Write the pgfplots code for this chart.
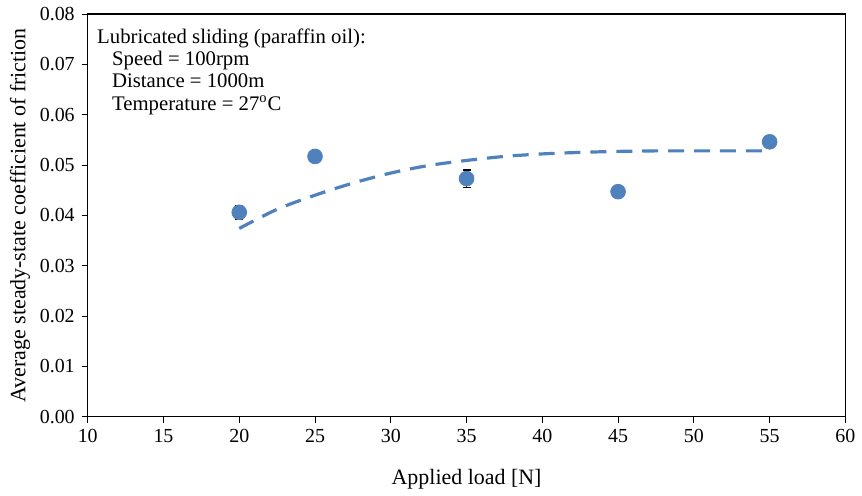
\documentclass[border=0pt]{standalone}
\usepackage{fontspec}
\setmainfont{Liberation Serif}
\usepackage{pgfplots}
\pgfplotsset{compat=1.18}
\definecolor{xlblue}{RGB}{79,129,189}
\begin{document}
\fontsize{10pt}{12pt}\selectfont
\begin{tikzpicture}
\begin{axis}[
  scale only axis,
  width=380pt, height=202pt,
  xmin=10, xmax=60, ymin=0, ymax=0.08,
  xtick={10,15,...,60},
  ytick={0,0.01,0.02,0.03,0.04,0.05,0.06,0.07,0.08},
  yticklabel style={/pgf/number format/fixed, /pgf/number format/fixed zerofill, /pgf/number format/precision=2},
  scaled y ticks=false,
  /pgf/number format/assume math mode=true,
  tick align=outside,
  tick style={black, thin},
  major tick length=3pt,
  xtick pos=bottom, ytick pos=left,
  axis line style={black, line width=0.6pt},
  xlabel={Applied load [N]},
  ylabel={Average steady-state coefficient of friction},
  xlabel style={yshift=-6pt},
  ylabel style={yshift=-2pt},
  ticklabel style={font=\fontsize{10pt}{11pt}\selectfont},
  label style={font=\fontsize{11pt}{12pt}\selectfont},
  clip=false,
]
\addplot[xlblue, line width=1.6pt, dash pattern=on 8pt off 5pt, smooth] coordinates {
 (20,0.0374) (22.5,0.0412) (25,0.0440) (27.5,0.0464) (30,0.0484) (32.5,0.0499)
 (35,0.0509) (37.5,0.0517) (40,0.0522) (42.5,0.0525) (45,0.0527) (47.5,0.0528)
 (50,0.0528) (52.5,0.0528) (55,0.0528)
};
\addplot[only marks, mark=*, mark size=3.7pt, mark options={fill=xlblue, draw=xlblue},
  error bars/.cd, y dir=both, y explicit,
  error bar style={black, line width=0.6pt},
  error mark options={black, line width=0.6pt, mark size=2pt, rotate=90}]
coordinates {
 (20,0.0406) +- (0,0.0014)
 (25,0.0517) +- (0,0.0004)
 (35,0.0473) +- (0,0.0017)
 (45,0.0447) +- (0,0.0006)
 (55,0.0546) +- (0,0.0012)
};
\node[anchor=north west, align=left, inner sep=0pt, font=\fontsize{10.4pt}{11.2pt}\selectfont]
  at (axis cs:10.6,0.0772) {Lubricated sliding (paraffin oil):\\
  \hspace{7.5pt}Speed = 100rpm\\
  \hspace{7.5pt}Distance = 1000m\\
  \hspace{7.5pt}Temperature = 27\textsuperscript{o}C};
\end{axis}
\path (current axis.south west) ++(-44pt,-38pt);
\path (current axis.north east) ++(7pt,7pt);
\end{tikzpicture}
\end{document}
